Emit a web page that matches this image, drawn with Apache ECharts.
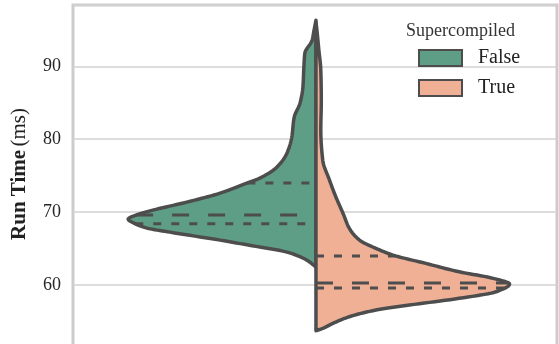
<!DOCTYPE html>
<html><head><meta charset="utf-8">
<script src="https://cdn.jsdelivr.net/npm/echarts@6/dist/echarts.min.js"></script>
<style>html,body{margin:0;padding:0;background:#fff}#c{width:559px;height:344px}</style>
</head><body><div id="c"></div>
<script>
// Run time values (ms) along the violin outline and the half-width (density) read at each
const runTimeFalse = [96.30, 94.93, 93.56, 91.78, 89.86, 87.12, 84.93, 83.01, 80.27, 78.08, 76.16, 74.66, 73.97, 72.60, 71.37, 70.27, 69.59, 69.04, 68.49, 67.81, 67.26, 66.16, 65.21, 64.52, 63.42, 62.47];
const densityFalse = [0, 0.004, 0.008, 0.023, 0.025, 0.027, 0.033, 0.045, 0.050, 0.060, 0.081, 0.116, 0.143, 0.198, 0.267, 0.337, 0.372, 0.388, 0.376, 0.349, 0.302, 0.198, 0.116, 0.060, 0.019, 0];
const runTimeTrue = [96.03, 94.93, 92.19, 89.45, 85.34, 81.23, 77.12, 74.38, 72.10, 69.82, 67.77, 66.16, 65.03, 64.11, 62.97, 61.82, 60.92, 60.14, 59.08, 58.18, 57.26, 56.58, 55.66, 54.75, 54.07, 53.74];
const densityTrue = [0, 0.002, 0.006, 0.010, 0.011, 0.010, 0.014, 0.028, 0.041, 0.056, 0.069, 0.090, 0.124, 0.159, 0.227, 0.296, 0.366, 0.400, 0.372, 0.296, 0.193, 0.124, 0.069, 0.035, 0.014, 0];
// quartiles: [q1, median, q3]
const quartFalse = [68.4, 69.6, 74.0];
const quartTrue = [59.6, 60.3, 64.0];
const seriesNames = ['False', 'True'];
const legendTitle = 'Supercompiled';
const yTicks = [60, 70, 80, 90];

const GREEN = '#5e9e86', ORANGE = '#f0b096', EDGE = '#4d4d4d';
const FONT = '"Liberation Serif", "DejaVu Serif", serif';

// monotone cubic (Fritsch-Carlson) drawing of width as a function of run time
function smoothProfile(vals, dens, sub) {
  const N = vals.length, h = [], d = [], m = [];
  for (let i = 0; i < N - 1; i++) { h[i] = vals[i + 1] - vals[i]; d[i] = (dens[i + 1] - dens[i]) / h[i]; }
  m[0] = d[0]; m[N - 1] = d[N - 2];
  for (let i = 1; i < N - 1; i++) {
    if (d[i - 1] * d[i] <= 0) { m[i] = 0; continue; }
    const w1 = 2 * Math.abs(h[i]) + Math.abs(h[i - 1]), w2 = Math.abs(h[i]) + 2 * Math.abs(h[i - 1]);
    m[i] = (w1 + w2) / (w1 / d[i - 1] + w2 / d[i]);
  }
  const out = [];
  for (let i = 0; i < N - 1; i++) {
    for (let s = 0; s < sub; s++) {
      const t = s / sub, t2 = t * t, t3 = t2 * t;
      const y = (2 * t3 - 3 * t2 + 1) * dens[i] + (t3 - 2 * t2 + t) * h[i] * m[i]
        + (-2 * t3 + 3 * t2) * dens[i + 1] + (t3 - t2) * h[i] * m[i + 1];
      out.push([vals[i] + t * h[i], Math.max(0, y)]);
    }
  }
  out.push([vals[N - 1], dens[N - 1]]);
  return out;
}

function widthAt(prof, v) {
  for (let i = 0; i < prof.length - 1; i++) {
    const a = prof[i][0], b = prof[i + 1][0];
    if (v <= a && v >= b) {
      const t = (a - v) / (a - b);
      return prof[i][1] + t * (prof[i + 1][1] - prof[i][1]);
    }
  }
  return 0;
}

function makeRender(vals, dens, quarts, side, fill) {
  const prof = smoothProfile(vals, dens, 10);
  return function (params, api) {
    const pts = prof.map(p => api.coord([side * p[1], p[0]]));
    const children = [{
      type: 'polygon',
      shape: { points: pts },
      style: { fill: fill, stroke: EDGE, lineWidth: 3.5, lineJoin: 'round' }
    }];
    quarts.forEach((q, k) => {
      const w = widthAt(prof, q);
      const pa = api.coord([side < 0 ? -w : 0, q]);
      const pb = api.coord([side < 0 ? 0 : w, q]);
      children.push({
        type: 'line',
        shape: { x1: pa[0], y1: pa[1], x2: pb[0], y2: pb[1] },
        style: { stroke: EDGE, lineWidth: 3, lineDash: k === 1 ? [17, 19] : [8, 10] }
      });
    });
    return { type: 'group', children: children };
  };
}

const chart = echarts.init(document.getElementById('c'), null, { renderer: 'canvas' });
chart.setOption({
  animation: false,
  backgroundColor: '#fff',
  grid: { left: 73, right: 2, top: 5, height: 353, outerBoundsMode: 'none', containLabel: false, show: true, borderColor: '#cccccc', borderWidth: 3, backgroundColor: 'transparent' },
  title: {
    text: legendTitle, left: 406, top: 22, padding: 0,
    textStyle: { fontFamily: FONT, fontSize: 18, fontWeight: 'normal', color: '#333' }
  },
  legend: {
    orient: 'vertical', left: 418, top: 48, padding: 0, itemGap: 10,
    itemWidth: 43, itemHeight: 16, icon: 'rect',
    itemStyle: { borderColor: EDGE, borderWidth: 2 },
    textStyle: { fontFamily: FONT, fontSize: 20, lineHeight: 20, color: '#222', padding: [0, 0, 0, 11] },
    data: seriesNames
  },
  xAxis: { type: 'value', min: -0.502, max: 0.498, show: false },
  yAxis: {
    type: 'value', min: 50, max: 98.4, interval: 10,
    axisLine: { show: false }, axisTick: { show: false },
    splitLine: { lineStyle: { color: '#d2d2d2', width: 1.7 } },
    axisLabel: {
      fontFamily: FONT, fontSize: 18, color: '#262626', margin: 12,
      showMaxLabel: false,
      formatter: v => (yTicks.indexOf(v) >= 0 ? String(v) : '')
    },
    name: '{b|Run Time} {n|(ms)}',
    nameLocation: 'middle', nameGap: 43,
    nameTextStyle: {
      padding: [0, 0, 0, 15],
      rich: {
        b: { fontFamily: FONT, fontSize: 21, fontWeight: 'bold', color: '#222' },
        n: { fontFamily: FONT, fontSize: 21, color: '#222' }
      }
    }
  },
  series: [
    {
      name: seriesNames[0], type: 'custom',
      itemStyle: { color: GREEN, borderColor: EDGE, borderWidth: 2 },
      renderItem: makeRender(runTimeFalse, densityFalse, quartFalse, -1, GREEN),
      data: [[0, quartFalse[1]]], z: 3
    },
    {
      name: seriesNames[1], type: 'custom',
      itemStyle: { color: ORANGE, borderColor: EDGE, borderWidth: 2 },
      renderItem: makeRender(runTimeTrue, densityTrue, quartTrue, 1, ORANGE),
      data: [[0, quartTrue[1]]], z: 3
    }
  ]
});
</script></body></html>
